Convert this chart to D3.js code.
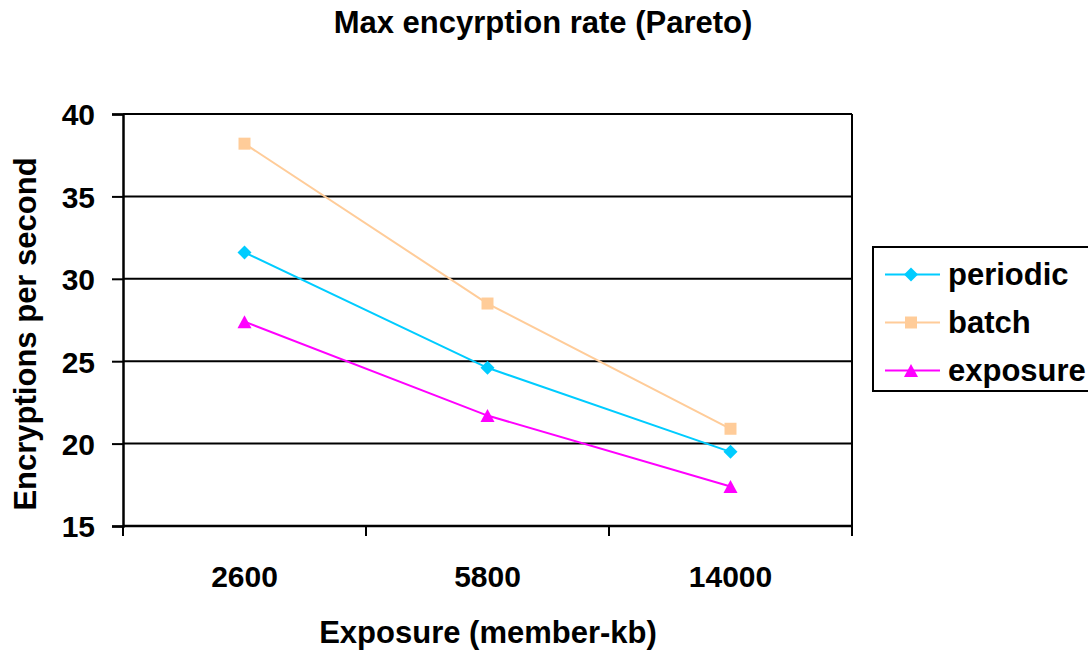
<!DOCTYPE html>
<html>
<head>
<meta charset="utf-8">
<script src="https://cdn.jsdelivr.net/npm/d3@7/dist/d3.min.js"></script>
<style>
  html, body { margin: 0; padding: 0; background: #fff; }
  svg { display: block; font-family: "Liberation Sans", Arial, sans-serif; }
  svg text { font-weight: bold; fill: #000; }
</style>
</head>
<body>
<svg id="chart" width="1088" height="650"></svg>
<script>
// Chart data
const categories = ["2600", "5800", "14000"];
const periodic = [31.6, 24.6, 19.5];
const batch = [38.2, 28.5, 20.9];
const exposure = [27.4, 21.7, 17.4];
const yTicks = [15, 20, 25, 30, 35, 40];
const seriesNames = ["periodic", "batch", "exposure"];

// Marker shapes (square, rotated square, upright triangle)
const diamondSym = {
  draw(ctx, r) { ctx.moveTo(0, -r); ctx.lineTo(r, 0); ctx.lineTo(0, r); ctx.lineTo(-r, 0); ctx.closePath(); }
};
const squareSym = {
  draw(ctx, r) { ctx.rect(-r, -r, 2 * r, 2 * r); }
};
const triangleSym = {
  draw(ctx, r) { ctx.moveTo(0, -r); ctx.lineTo(r * 1.08, r); ctx.lineTo(-r * 1.08, r); ctx.closePath(); }
};

const seriesList = [
  { name: seriesNames[0], values: periodic, color: "#00CCFF", symbol: diamondSym, size: 7 },
  { name: seriesNames[1], values: batch, color: "#FFCC99", symbol: squareSym, size: 6 },
  { name: seriesNames[2], values: exposure, color: "#FF00FF", symbol: triangleSym, size: 6.5 }
];

const svg = d3.select("#chart");
const plot = { left: 123, right: 852, top: 114, bottom: 526 };
const FONT = "30px";

const x = d3.scaleBand().domain(categories).range([plot.left, plot.right]);
const y = d3.scaleLinear().domain([15, 40]).range([plot.bottom, plot.top]);

// Title
svg.append("text")
  .attr("x", 543).attr("y", 33)
  .attr("text-anchor", "middle")
  .style("font-size", "31px")
  .text("Max encyrption rate (Pareto)");

// Horizontal gridlines
svg.append("g")
  .selectAll("line")
  .data(yTicks)
  .join("line")
  .attr("x1", plot.left).attr("x2", plot.right)
  .attr("y1", d => y(d)).attr("y2", d => y(d))
  .attr("stroke", "#000").attr("stroke-width", 2);

// Right border of the plot area
svg.append("line")
  .attr("x1", plot.right).attr("x2", plot.right)
  .attr("y1", plot.top).attr("y2", plot.bottom)
  .attr("stroke", "#000").attr("stroke-width", 2);

// Y axis
const yAxis = svg.append("g")
  .attr("transform", `translate(${plot.left},0)`)
  .call(d3.axisLeft(y).tickValues(yTicks).tickSize(11).tickPadding(17));
yAxis.attr("font-size", null).attr("font-family", null);
yAxis.select(".domain").attr("stroke-width", 2.5);
yAxis.selectAll(".tick line").attr("stroke-width", 2);
yAxis.selectAll(".tick text")
  .style("font-size", FONT)
  .attr("dy", "0.36em");

// X axis with ticks at category boundaries
const xAxis = svg.append("g")
  .attr("transform", `translate(0,${plot.bottom})`);
xAxis.append("line")
  .attr("x1", plot.left).attr("x2", plot.right)
  .attr("y1", 0).attr("y2", 0)
  .attr("stroke", "#000").attr("stroke-width", 2.5);
const bounds = categories.map(c => x(c)).concat([x(categories[categories.length - 1]) + x.bandwidth()]);
xAxis.selectAll("line.tick")
  .data(bounds)
  .join("line")
  .attr("class", "tick")
  .attr("x1", d => d).attr("x2", d => d)
  .attr("y1", 0).attr("y2", 10)
  .attr("stroke", "#000").attr("stroke-width", 2);
xAxis.selectAll("text")
  .data(categories)
  .join("text")
  .attr("x", d => x(d) + x.bandwidth() / 2)
  .attr("y", 61)
  .attr("text-anchor", "middle")
  .style("font-size", FONT)
  .text(d => d);

// Axis titles
svg.append("text")
  .attr("x", 488).attr("y", 643)
  .attr("text-anchor", "middle")
  .style("font-size", "31px")
  .text("Exposure (member-kb)");
svg.append("text")
  .attr("transform", "translate(36,334) rotate(-90)")
  .attr("text-anchor", "middle")
  .style("font-size", "31px")
  .text("Encryptions per second");

// Series lines and markers
const line = d3.line()
  .x((d, i) => x(categories[i]) + x.bandwidth() / 2)
  .y(d => y(d));

seriesList.forEach(s => {
  svg.append("path")
    .datum(s.values)
    .attr("d", line)
    .attr("fill", "none")
    .attr("stroke", s.color)
    .attr("stroke-width", 2);
  svg.append("g")
    .selectAll("path")
    .data(s.values)
    .join("path")
    .attr("transform", (d, i) => `translate(${x(categories[i]) + x.bandwidth() / 2},${y(d)})`)
    .attr("d", d3.symbol().type(s.symbol).size(s.size))
    .attr("fill", s.color);
});

// Legend
const legend = svg.append("g").attr("transform", "translate(873,247)");
legend.append("rect")
  .attr("x", 0).attr("y", 0)
  .attr("width", 240).attr("height", 144)
  .attr("fill", "#fff").attr("stroke", "#000").attr("stroke-width", 2);
seriesList.forEach((s, i) => {
  const cy = 27.5 + i * 48;
  legend.append("line")
    .attr("x1", 12).attr("x2", 67)
    .attr("y1", cy).attr("y2", cy)
    .attr("stroke", s.color).attr("stroke-width", 2);
  legend.append("path")
    .attr("transform", `translate(38,${cy})`)
    .attr("d", d3.symbol().type(s.symbol).size(s.size))
    .attr("fill", s.color);
  legend.append("text")
    .attr("x", 75).attr("y", cy + 10.5)
    .style("font-size", "31px")
    .text(s.name);
});
</script>
</body>
</html>
